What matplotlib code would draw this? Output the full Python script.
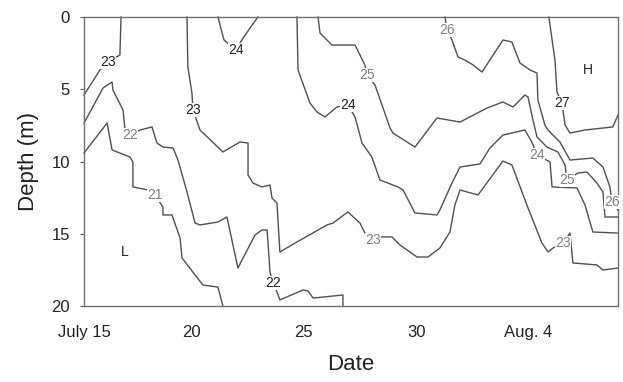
import matplotlib
matplotlib.use("Agg")
import matplotlib.pyplot as plt

plt.rcParams['font.family'] = ['Liberation Sans', 'DejaVu Sans']

# isotherms, day of July vs depth (m)
t21_day = [15.20, 16.23, 16.45, 17.25, 17.38, 17.38, 18.05, 18.36, 18.72, 18.72, 19.12, 19.48, 19.57, 20.15, 20.50, 21.17, 21.39]
t21_depth = [9.41, 7.34, 9.20, 9.69, 10.03, 11.76, 11.97, 12.32, 13.15, 13.70, 13.70, 15.29, 16.68, 17.85, 18.55, 18.69, 20.0]

t22_day = [15.20, 16.05, 16.45, 16.49, 16.94, 17.03, 17.25, 17.70, 18.23, 18.45, 18.72, 19.17, 19.39, 19.79, 20.15, 20.37,
           21.17, 21.57, 21.62, 22.06, 22.82, 23.13, 23.36, 23.49, 23.62, 23.80, 23.93, 24.96, 25.18, 25.41, 26.74, 26.74]
t22_depth = [7.34, 4.91, 4.50, 5.05, 6.44, 7.82, 8.17, 7.82, 7.61, 8.72, 9.00, 9.07, 9.90, 12.11, 14.26, 14.39,
             14.19, 13.84, 14.19, 17.37, 15.09, 14.74, 14.74, 17.65, 18.41, 19.03, 19.58, 18.89, 18.96, 19.45, 19.24, 20.0]

t23a_day = [16.85, 16.80, 16.27, 15.91, 15.20]
t23a_depth = [0.0, 2.63, 3.11, 3.67, 5.40]

t23b_day = [19.79, 19.83, 20.01, 20.06, 20.37, 21.39, 22.15, 22.51, 22.51, 22.73, 23.13, 23.49, 23.58, 23.80, 23.93, 24.69,
            26.03, 26.30, 26.96, 27.50, 27.72, 28.08, 28.39, 28.93, 29.28, 30.04, 30.53, 31.06, 31.51, 31.73, 31.96,
            32.76, 33.87, 34.27, 34.99, 35.61, 35.88, 36.10, 36.55, 36.86, 36.99, 38.06, 38.33, 39.00]
t23b_depth = [0.0, 3.46, 5.26, 6.44, 7.82, 9.34, 8.65, 8.72, 10.93, 11.49, 11.76, 11.63, 12.53, 12.87, 16.26, 15.57,
              14.39, 14.26, 13.49, 14.26, 14.95, 15.43, 15.22, 15.22, 15.78, 16.61, 16.61, 15.99, 14.88, 13.01, 11.97,
              12.32, 9.97, 10.24, 13.22, 15.64, 16.26, 15.99, 15.64, 14.95, 17.02, 17.16, 17.51, 17.37]

t24a_day = [21.17, 21.44, 21.97, 22.29, 22.95]
t24a_depth = [0.0, 1.59, 2.28, 1.45, 0.0]

t24b_day = [24.69, 24.74, 25.27, 25.58, 25.94, 26.47, 26.96, 27.28, 27.59, 28.03, 28.39, 29.19, 29.42, 29.95, 30.93,
            31.06, 31.60, 31.96, 32.85, 33.29, 33.87, 34.85, 35.16, 35.39, 35.97, 36.06, 37.17, 37.53, 37.88, 39.00]
t24b_depth = [0.0, 3.67, 5.95, 6.57, 6.92, 6.23, 6.09, 6.92, 8.72, 9.69, 11.28, 11.76, 11.97, 13.56, 13.70,
              13.36, 11.49, 10.38, 10.17, 9.07, 8.17, 7.82, 8.65, 9.55, 10.03, 11.76, 11.83, 13.01, 14.88, 14.95]

t25_day = [25.63, 25.72, 26.25, 27.28, 27.72, 27.81, 28.17, 28.84, 28.97, 29.95, 30.93, 31.96, 33.16, 33.87, 34.32,
           34.85, 34.99, 35.21, 35.39, 35.83, 36.32, 36.64, 36.72, 37.21, 37.62, 38.06, 38.33, 38.42, 39.00]
t25_depth = [0.0, 1.11, 1.94, 1.94, 3.32, 4.01, 4.71, 7.68, 8.03, 9.00, 6.99, 7.27, 6.30, 5.88, 6.23,
             5.40, 5.54, 7.13, 8.30, 9.00, 9.34, 10.24, 11.28, 10.80, 10.73, 11.49, 12.11, 13.84, 13.84]

t26_day = [31.29, 31.38, 31.60, 31.87, 32.18, 32.54, 32.94, 33.87, 34.27, 34.63, 35.08, 35.39, 35.43, 35.74, 35.88,
           36.41, 36.86, 37.88, 38.33, 38.64, 38.73, 39.00]
t26_depth = [0.0, 0.90, 1.59, 2.77, 2.98, 3.32, 3.81, 1.59, 1.73, 3.18, 3.67, 3.88, 5.74, 7.47, 7.82,
             8.65, 9.90, 9.76, 10.38, 11.76, 12.80, 13.36]

t27_day = [35.92, 36.19, 36.28, 36.50, 36.64, 36.86, 37.53, 38.77, 39.00]
t27_depth = [0.0, 2.98, 5.19, 5.95, 7.47, 8.03, 7.82, 7.61, 6.78]

# contour labels: text, day, depth, dark?
labels = [
    ("23", 16.27, 3.11, True), ("23", 20.06, 6.44, True), ("24", 21.97, 2.28, True),
    ("22", 17.25, 8.17, False), ("21", 18.36, 12.32, False), ("22", 23.62, 18.41, True),
    ("25", 27.81, 4.01, False), ("24", 26.96, 6.09, True), ("26", 31.38, 0.90, False),
    ("27", 36.50, 5.95, True), ("24", 35.39, 9.55, False), ("25", 36.72, 11.28, False),
    ("26", 38.73, 12.80, False), ("23", 28.08, 15.43, False), ("23", 36.55, 15.64, False),
    ("H", 37.66, 3.67, True), ("L", 17.03, 16.26, True),
]

tick_days = [15.2, 20, 25, 30, 35]
tick_names = ["July 15", "20", "25", "30", "Aug. 4"]

fig = plt.figure(figsize=(6.23, 3.82), dpi=100)
ax = fig.add_axes([84 / 623, 76 / 382, 534 / 623, 289 / 382])

lines = [(t21_day, t21_depth), (t22_day, t22_depth), (t23a_day, t23a_depth), (t23b_day, t23b_depth),
         (t24a_day, t24a_depth), (t24b_day, t24b_depth), (t25_day, t25_depth), (t26_day, t26_depth),
         (t27_day, t27_depth)]
for d, z in lines:
    ax.plot(d, z, color='#505050', lw=1.0, clip_on=False)

for txt, d, z, dark in labels:
    bbox = None if txt in ("H", "L") else dict(facecolor='white', edgecolor='none', pad=0.3)
    ax.text(d, z, txt, ha='center', va='center', fontsize=10,
            color='#222222' if dark else '#808080', bbox=bbox, zorder=3)

ax.set_xlim(15.2, 39.0)
ax.set_ylim(20, 0)
ax.set_yticks([0, 5, 10, 15, 20])
ax.set_xticks(tick_days)
ax.set_xticklabels(tick_names)
ax.tick_params(axis='y', length=3, width=0.8, pad=7, labelsize=12, colors='#555555', labelcolor='#222222')
ax.tick_params(axis='x', length=0, pad=14, labelsize=12, labelcolor='#222222')
for s in ax.spines.values():
    s.set_color('#707070')
    s.set_linewidth(1.0)

ax.set_xlabel("Date", fontsize=16, color='#222222', labelpad=10)
ax.set_ylabel("Depth (m)", fontsize=16, color='#222222', labelpad=9)

fig.savefig("out.png", dpi=100)
